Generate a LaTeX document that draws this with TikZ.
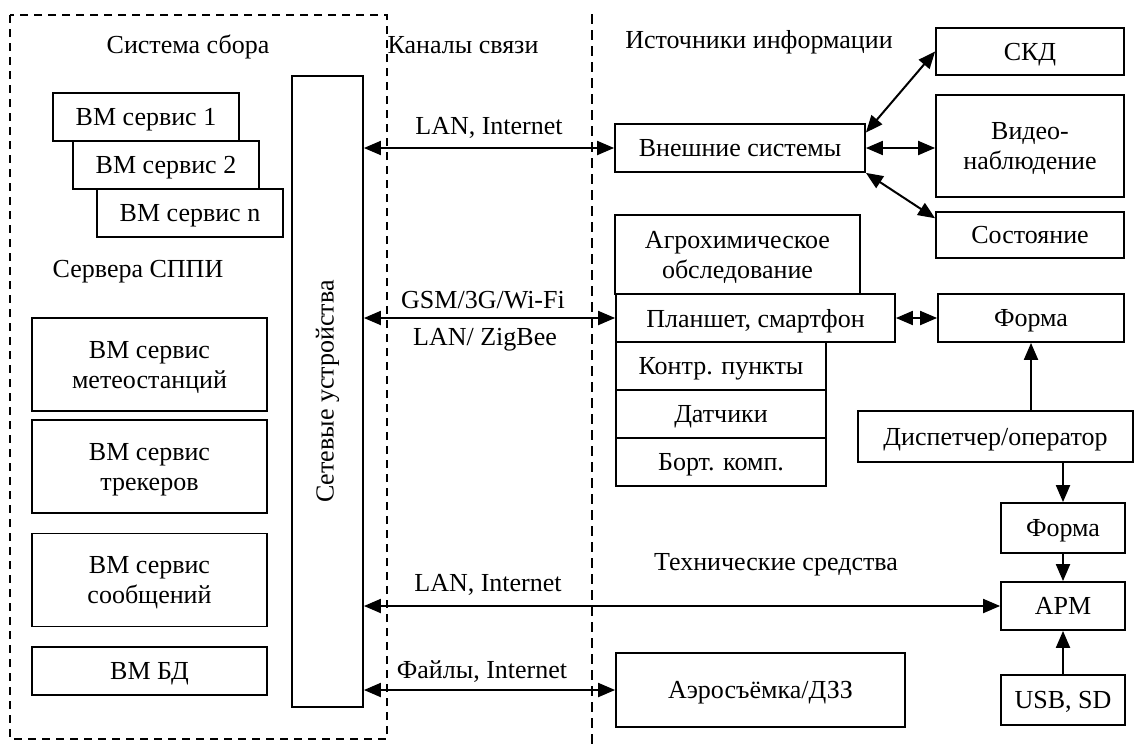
\documentclass[tikz,border=0pt]{standalone}
\usepackage{fontspec}
\setmainfont{Liberation Serif}
\usetikzlibrary{arrows.meta}

\begin{document}
\begin{tikzpicture}[x=1pt,y=-1pt,font=\fontsize{26}{30}\selectfont]
    \tikzstyle{box}=[draw, rectangle, line width=1.8pt, inner sep=0pt, align=center, text depth=0pt]
    \tikzstyle{txt}=[inner sep=0pt, align=center]
    \tikzstyle{arr}=[line width=2pt, -{Triangle[length=17pt,width=14pt]}]
    \tikzstyle{arr2}=[line width=2pt, {Triangle[length=17pt,width=14pt]}-{Triangle[length=17pt,width=14pt]}]
    \useasboundingbox (0,0) rectangle (1134,747);

    % zones
    \draw[line width=1.5pt, dash pattern=on 8pt off 6pt] (10,15) rectangle (387,739);
    \draw[line width=1.1pt, dash pattern=on 10pt off 6pt] (592,14) -- (592,747);

    \node[txt] (sys)  at (188,47) {Система сбора};
    \node[txt] (chan) at (463,45) {Каналы связи};
    \node[txt] (src)  at (759,42) {Источники информации};
    \node[txt] (srv)  at (138,272) {Сервера СППИ};
    \node[txt] (tech) at (776,565) {Технические средства};

    % collection system
    \node[box, minimum width=186pt, minimum height=48pt] (s1) at (146,117) {ВМ сервис 1};
    \node[box, minimum width=186pt, minimum height=48pt] (s2) at (166,165) {ВМ сервис 2};
    \node[box, minimum width=186pt, minimum height=48pt] (sn) at (190,213) {ВМ сервис n};
    \node[box, minimum width=235pt, minimum height=93pt] (meteo) at (149.5,364.5) {ВМ сервис\\метеостанций};
    \node[box, minimum width=235pt, minimum height=93pt] (trek)  at (149.5,466.5) {ВМ сервис\\трекеров};
    \node[box, minimum width=235pt, minimum height=93pt] (msg)   at (149.5,580) {ВМ сервис\\сообщений};
    \node[box, minimum width=235pt, minimum height=48pt] (db)    at (149.5,671) {ВМ БД};
    \node[box, minimum width=71pt, minimum height=631pt] (net)   at (327.5,391.5) {\rotatebox{90}{Сетевые устройства}};

    % sources
    \node[box, minimum width=250pt, minimum height=48pt]  (ext)   at (740,148) {Внешние системы};
    \node[box, minimum width=188pt, minimum height=47pt]  (skd)   at (1030,51.5) {СКД};
    \node[box, minimum width=188pt, minimum height=102pt] (video) at (1030,146) {Видео-\\наблюдение};
    \node[box, minimum width=188pt, minimum height=46pt]  (state) at (1030,235) {Состояние};
    \node[box, minimum width=245pt, minimum height=79pt]  (agro)  at (737.5,254.5) {Агрохимическое\\обследование};
    \node[box, minimum width=279pt, minimum height=48pt]  (tab)   at (755.5,318) {Планшет, смартфон};
    \node[box, minimum width=210pt, minimum height=48pt]  (cp)    at (721,366) {Контр. пункты};
    \node[box, minimum width=210pt, minimum height=48pt]  (sens)  at (721,414) {Датчики};
    \node[box, minimum width=210pt, minimum height=48pt]  (board) at (721,462) {Борт. комп.};
    \node[box, minimum width=186pt, minimum height=48pt]  (form1) at (1031,318) {Форма};
    \node[box, minimum width=275pt, minimum height=51pt]  (disp)  at (995.5,436.5) {Диспетчер/оператор};
    \node[box, minimum width=124pt, minimum height=50pt]  (form2) at (1063,528) {Форма};
    \node[box, minimum width=124pt, minimum height=48pt]  (arm)   at (1063,606) {АРМ};
    \node[box, minimum width=124pt, minimum height=50pt]  (usb)   at (1063,700) {USB, SD};
    \node[box, minimum width=289pt, minimum height=74pt]  (aero)  at (760.5,690) {Аэросъёмка/ДЗЗ};

    % channels
    \node[txt] (lan1) at (489,128) {LAN, Internet};
    \node[txt] (gsm)  at (483,300) {GSM/3G/Wi-Fi};
    \node[txt] (zig)  at (485,340) {LAN/ ZigBee};
    \node[txt] (lan2) at (488,585) {LAN, Internet};
    \node[txt] (file) at (482,672) {Файлы, Internet};

    \draw[arr2] (ext.west -| net.east) -- (ext.west);
    \draw[arr2] (tab.west -| net.east) -- (tab.west);
    \draw[arr2] (arm.west -| net.east) -- (arm.west);
    \draw[arr2] (aero.west -| net.east) -- (aero.west);

    \draw[arr2] (ext.7) -- (skd.west);
    \draw[arr2] (ext.east) -- (ext.east -| video.west);
    \draw[arr2] (ext.south east) -- (state.170);
    \draw[arr2] (tab.east) -- (form1.west);
    \draw[arr] (disp.north -| form1.south) -- (form1.south);
    \draw[arr] (disp.south -| form2.north) -- (form2.north);
    \draw[arr] (form2.south) -- (arm.north);
    \draw[arr] (usb.north) -- (arm.south);
\end{tikzpicture}
\end{document}
